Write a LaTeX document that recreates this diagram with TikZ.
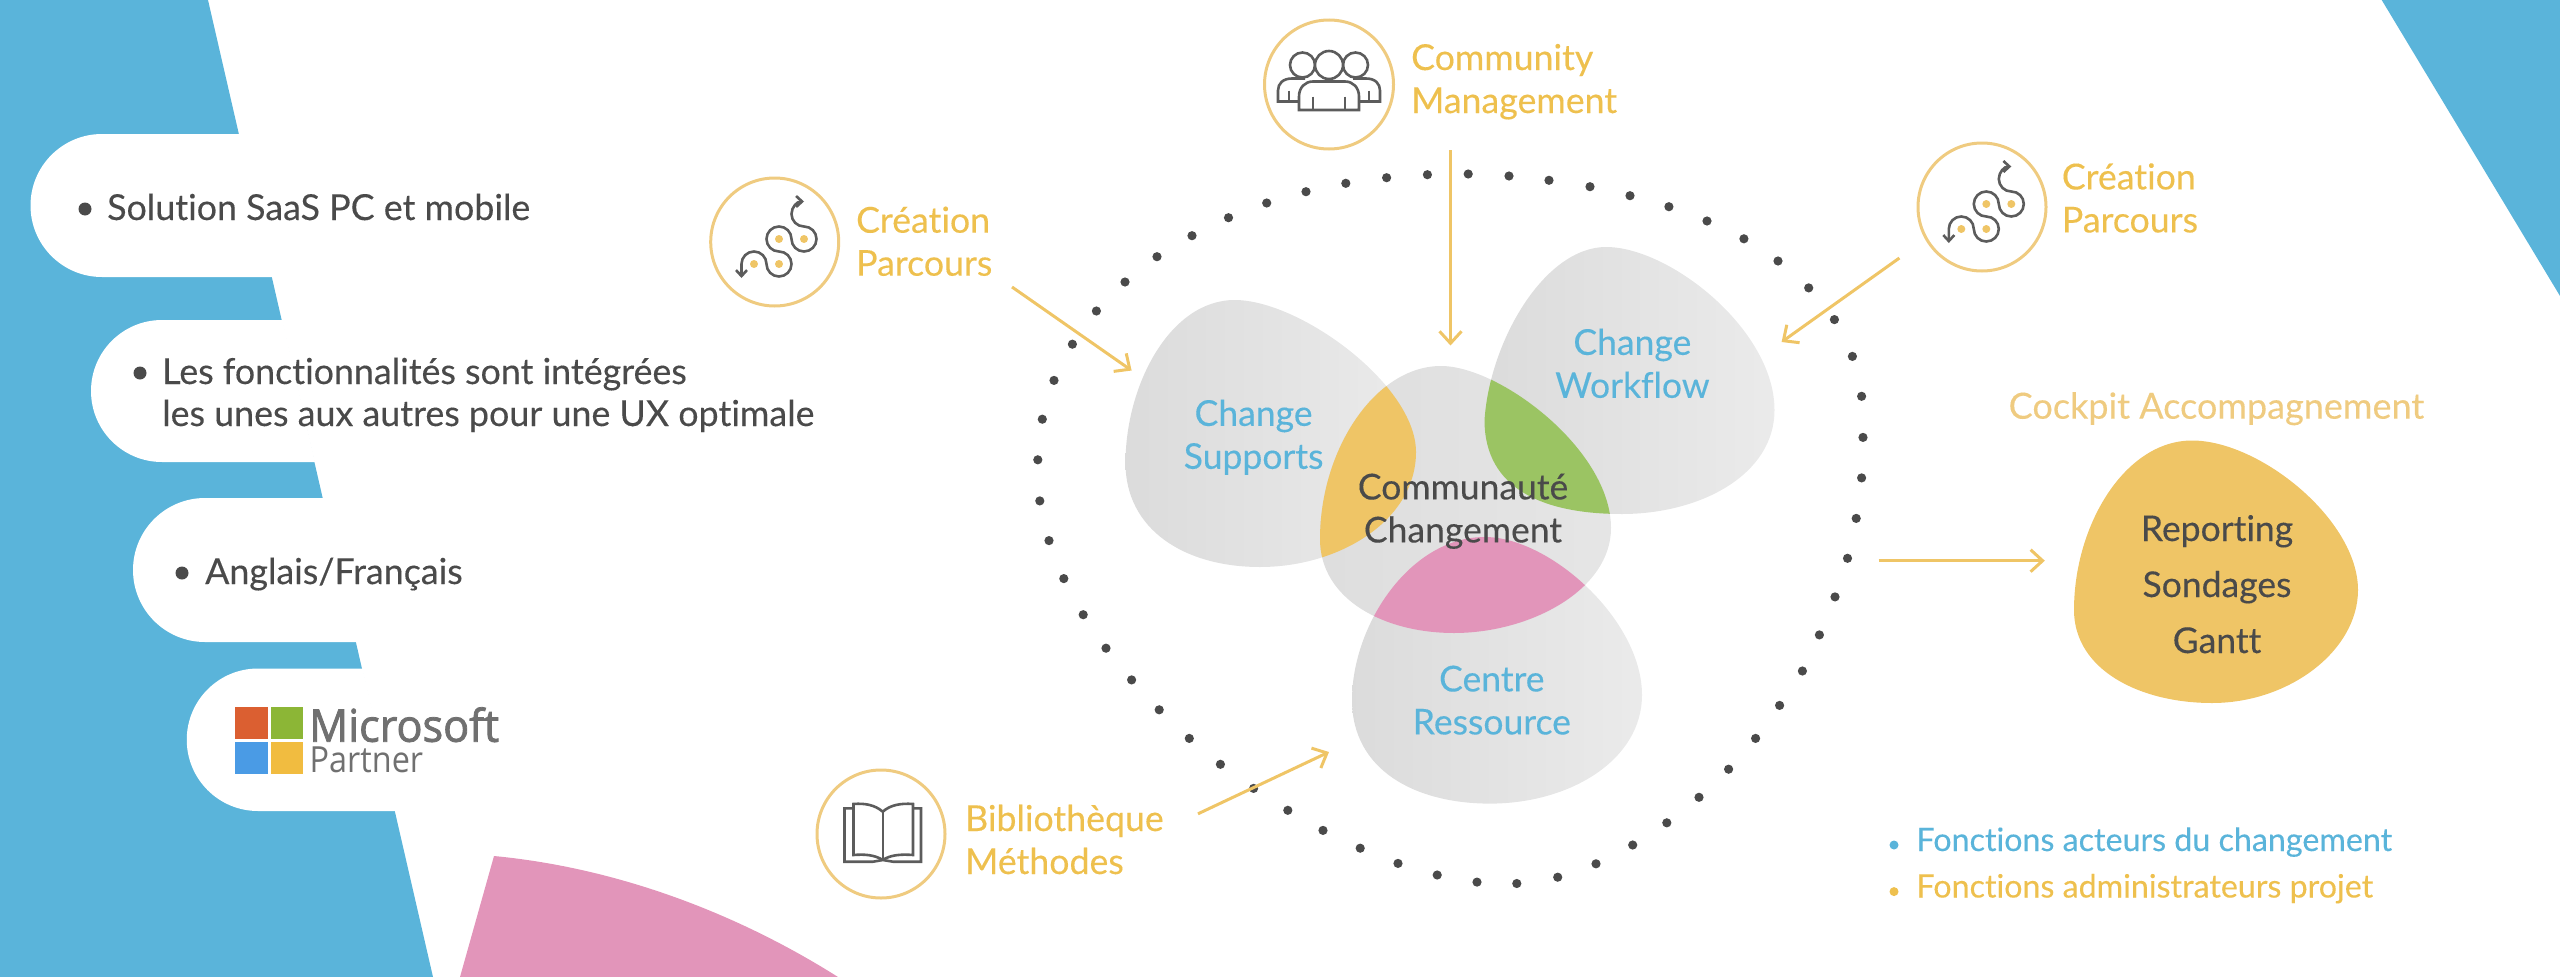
\documentclass[tikz,border=0pt]{standalone}
\usepackage{fontspec}
\setmainfont{Lato}[Ligatures=NoCommon,FakeBold=0.25]
\newfontfamily\msfont{Open Sans}[FakeStretch=0.96,FakeBold=1.8]
\newfontfamily\mslight{Open Sans}[FakeStretch=0.9]
\usetikzlibrary{arrows.meta}
\definecolor{skyblue}{HTML}{5AB4DA}
\definecolor{rosefill}{HTML}{E295BA}
\definecolor{goldfill}{HTML}{EFC566}
\definecolor{goldtext}{HTML}{EEC04E}
\definecolor{goldpale}{HTML}{EFCB80}
\definecolor{leaffill}{HTML}{9BC463}
\definecolor{inkgrey}{HTML}{4A4A4A}
\definecolor{icongrey}{HTML}{5C5C5C}
\definecolor{logogrey}{HTML}{707070}
\definecolor{logored}{HTML}{DB5F31}
\definecolor{logogreen}{HTML}{8CB636}
\definecolor{logoblue}{HTML}{4A9BE5}
\definecolor{logoyellow}{HTML}{F1BC40}
\tikzset{
    bodytext/.style={anchor=base west,inner sep=0pt,align=left,text=inkgrey,font=\fontsize{35.8}{42}\selectfont},
    goldlabel/.style={anchor=base west,inner sep=0pt,align=left,text=goldtext,font=\fontsize{35.7}{43}\selectfont},
    bluelabel/.style={anchor=base,inner sep=0pt,align=center,text=skyblue,font=\fontsize{35.5}{43}\selectfont},
    darklabel/.style={anchor=base,inner sep=0pt,align=center,text=inkgrey,font=\fontsize{35.5}{43}\selectfont},
    legendtext/.style={anchor=base west,inner sep=0pt,font=\fontsize{32.2}{36}\selectfont},
    blobshade/.style={left color=black!14,right color=black!8},
    arrowline/.style={draw=goldfill,line width=3pt,-{Straight Barb[length=12pt,width=22pt]}},
    iconring/.style={draw=goldpale,line width=3pt},
    iconline/.style={draw=icongrey,line width=2.6pt},
    parcoursicon/.pic={
        \draw[iconring] (0,0) circle[radius=64];
        \draw[iconline,{Straight Barb[length=6pt,width=11pt]}-{Straight Barb[length=6pt,width=11pt]}] (-33.2,36) -- (-33.2,22)
            arc[start angle=180,end angle=360,radius=12.5]
            arc[start angle=180,end angle=-90,radius=12.5]
            arc[start angle=90,end angle=360,radius=12.5]
            arc[start angle=180,end angle=-90,radius=12.5]
            arc[start angle=90,end angle=270,radius=12.5];
        \foreach \dx/\dy in {29.3/-3,4.3/-3,4.3/22,-20.7/22}
            \fill[goldfill] (\dx,\dy) circle[radius=4];
    },
    peopleicon/.pic={
        \draw[iconring] (0,0) circle[radius=64.5];
        \draw[iconline] (-24,-6) -- (-37,-6) .. controls (-46,-6) and (-51,-1) .. (-51,6) -- (-51,17) -- (-30,17);
        \draw[iconline] (24,-6) -- (37,-6) .. controls (46,-6) and (51,-1) .. (51,6) -- (51,17) -- (30,17);
        \draw[iconline] (-40,6) -- (-40,17) (40,6) -- (40,17);
        \draw[iconline] (-26.5,-19.5) circle[radius=12.5] (26.5,-19.5) circle[radius=12.5];
        \draw[iconline,fill=white] (-30,25.5) -- (-30,12) .. controls (-30,3) and (-24,-3) .. (-16,-3) -- (16,-3)
            .. controls (24,-3) and (30,3) .. (30,12) -- (30,25.5) -- cycle;
        \draw[iconline] (-16,12) -- (-16,25) (16,12) -- (16,25);
        \draw[iconline,fill=white] (0,-19.5) circle[radius=14];
    },
    bookicon/.pic={
        \draw[iconring] (0,0) circle[radius=64];
        \draw[iconline] (-27.5,-25.7) -- (-36.5,-25.7) -- (-36.5,27.7) -- (-8,27.7) -- (1.8,26) -- (12,27.7) -- (40,27.7) -- (40,-25.7) -- (32,-25.7);
        \draw[iconline] (1.8,-22.3) .. controls (-6,-29) and (-16,-31) .. (-27.5,-30) -- (-27.5,21) .. controls (-16,20) and (-6,21) .. (1.8,26);
        \draw[iconline] (1.8,-22.3) .. controls (9,-29) and (20,-31) .. (32,-30) -- (32,21) .. controls (20,20) and (9,21) .. (1.8,26);
        \draw[iconline] (1.8,-22.3) -- (1.8,26);
    }
}
% blob outlines
\newcommand{\blobsupports}{(1234.7,300) .. controls (1300,300) and (1416,385) .. (1416,452) .. controls (1416,520) and (1340,567) .. (1260,567) .. controls (1185,567) and (1125.5,530) .. (1125.5,463) .. controls (1125.5,385) and (1170,300) .. (1234.7,300) -- cycle}
\newcommand{\blobcentre}{(1441,366) .. controls (1500,366) and (1611,450) .. (1611,528) .. controls (1611,590) and (1530,633) .. (1454,633) .. controls (1385,633) and (1320,600) .. (1320,539) .. controls (1320,450) and (1375,366) .. (1441,366) -- cycle}
\newcommand{\blobworkflow}{(1606,247) .. controls (1670,247) and (1774.5,330) .. (1774.5,410) .. controls (1774.5,475) and (1700,514) .. (1622,514) .. controls (1545,514) and (1484.5,490) .. (1484.5,420) .. controls (1490,340) and (1545,247) .. (1606,247) -- cycle}
\newcommand{\blobressource}{(1484.7,537) .. controls (1550,537) and (1642,620) .. (1642,695) .. controls (1642,760) and (1570,803.6) .. (1490,803.6) .. controls (1415,803.6) and (1352,770) .. (1352,700) .. controls (1352,625) and (1410,537) .. (1484.7,537) -- cycle}
\begin{document}
\begin{tikzpicture}[x=1pt,y=-1pt]
    \useasboundingbox (0,0) rectangle (2560,977);
    % background shapes
    \fill[skyblue] (0,0) -- (208,0) -- (433,977) -- (0,977) -- cycle;
    \fill[skyblue] (2381.7,0) -- (2560,0) -- (2560,296) -- cycle;
    \fill[rosefill] (494,856) .. controls (620,868) and (740,915) .. (838,977) -- (460,977) -- cycle;
    % pills
    \fill[white] (240,134) -- (102,134) arc[start angle=270,end angle=90,radius=71.5] -- (273,277) -- cycle;
    \fill[white] (282.5,320) -- (162,320) arc[start angle=270,end angle=90,radius=71] -- (315,462) -- cycle;
    \fill[white] (323.6,498) -- (205,498) arc[start angle=270,end angle=90,radius=72] -- (357.6,642) -- cycle;
    \fill[white] (362.6,668.5) -- (258,668.5) arc[start angle=270,end angle=90,radius=71.25] -- (396,811) -- cycle;
    \foreach \bx/\by in {85/209,140/373,182/573}
        \fill[inkgrey] (\bx,\by) circle[radius=6.5];
    \node[bodytext] (saas) at (107,220) {Solution SaaS PC et mobile};
    \node[bodytext] (fonctions) at (162,426) {Les fonctionnalités sont intégrées\\les unes aux autres pour une UX optimale};
    \node[bodytext] (langues) at (205,584) {Anglais/Français};
    % partner logo
    \fill[logored] (235,706.7) rectangle (267.7,739);
    \fill[logogreen] (270.7,706.7) rectangle (302.7,739);
    \fill[logoblue] (235,741.7) rectangle (267.7,774);
    \fill[logoyellow] (270.7,741.7) rectangle (302.7,774);
    \node[anchor=base west,inner sep=0pt,text=logogrey,font=\msfont\fontsize{45}{45}\selectfont] (microsoft) at (309,741.7) {Microsoft};
    \node[anchor=base west,inner sep=0pt,text=logogrey,font=\mslight\fontsize{36}{36}\selectfont] (partner) at (309.5,772.7) {Partner};
    % dotted ring
    \foreach \px/\py in {1096.4/311,1125/282,1157/256.7,1192/235.7,1228.5/217.7,1266.7/203,1306/191.7,1345.8/183.3,1386.6/177.7,1427.4/174.7,1468.2/174,1509/176,1549/180.3,1590/186.7,1630/195.7,1668.9/206.7,1707/221,1743.9/238.8,1778/261,1808.7/287.9,1834.4/319.6,1852.4/356.4,1861.6/396.3,1863/437.4,1861.6/477.9,1856.2/518.4,1847.5/558.3,1835/596.9,1819.4/634.9,1802.4/671,1779.6/705.4,1755.6/738.4,1728.6/769.2,1699/797.3,1666.8/822.8,1632.7/845,1596/863.8,1557.7/877.2,1516.8/883.5,1477/882.1,1437.2/875,1398/863.4,1360.2/848.2,1323/830.4,1287.8/810.3,1253.6/788.4,1220.4/764.3,1189.3/738.4,1159.2/709.8,1131.6/679.9,1106/648.2,1083.2/614.7,1063.8/578.6,1049/540.6,1039.8/500.9,1037.8/459.8,1042.3/419.2,1054/380.4,1072.4/344.2}
        \fill[inkgrey] (\px,\py) circle[radius=4.6];
    % blobs
    \shade[blobshade] \blobsupports;
    \shade[blobshade] \blobworkflow;
    \shade[blobshade] \blobressource;
    \shade[left color=black!13,right color=black!10] \blobcentre;
    \begin{scope}
        \clip \blobcentre;
        \fill[goldfill] \blobsupports;
        \fill[leaffill] \blobworkflow;
        \fill[rosefill] \blobressource;
    \end{scope}
    \fill[goldfill] (2192,440.5) .. controls (2260,440.5) and (2358,520) .. (2358,590) .. controls (2358,650) and (2290,703) .. (2212,703) .. controls (2140,703) and (2074,670) .. (2074,610) .. controls (2074,525) and (2125,440.5) .. (2192,440.5) -- cycle;
    \node[bluelabel] (supports) at (1253.6,468.8) {Change\\Supports};
    \node[bluelabel] (workflow) at (1632.4,397.8) {Change\\Workflow};
    \node[bluelabel] (ressource) at (1491.8,734.4) {Centre\\Ressource};
    \node[darklabel] (communaute) at (1463,542.4) {Communauté\\Changement};
    % icons with their labels
    \pic at (774.7,242) {parcoursicon};
    \pic at (1982,207) {parcoursicon};
    \pic at (1329,84.5) {peopleicon};
    \pic at (881,834) {bookicon};
    \node[goldlabel] (parcoursA) at (856,275.7) {Création\\Parcours};
    \node[goldlabel] (parcoursB) at (2061.7,232.4) {Création\\Parcours};
    \node[goldlabel] (community) at (1411,113) {Community\\Management};
    \node[goldlabel] (methodes) at (965,874) {Bibliothèque\\Méthodes};
    % cockpit
    \node[anchor=base,inner sep=0pt,text=goldpale,font=\fontsize{36}{40}\selectfont] (cockpit) at (2216.4,418.7) {Cockpit Accompagnement};
    \node[darklabel,font=\fontsize{35.5}{56}\selectfont] (reporting) at (2217,653) {Reporting\\Sondages\\Gantt};
    % legend
    \fill[skyblue] (1894,845) circle[radius=4.5];
    \fill[goldtext] (1894,891.6) circle[radius=4.5];
    \node[legendtext,text=skyblue] (acteurs) at (1916.3,851) {Fonctions acteurs du changement};
    \node[legendtext,text=goldtext] (admins) at (1916.3,897.5) {Fonctions administrateurs projet};
    % arrows
    \coordinate (a1) at (1012,287);
    \coordinate (b1) at (1131.6,370.5);
    \coordinate (a2) at (1450.5,150);
    \coordinate (b2) at (1450.5,345.5);
    \coordinate (a3) at (1899.4,258);
    \coordinate (b3) at (1781.6,342);
    \coordinate (a4) at (1198,813.8);
    \coordinate (b4) at (1329,752);
    \coordinate (a5) at (1878.5,560.7);
    \coordinate (b5) at (2044.8,560.7);
    \foreach \from/\to in {a1/b1,a2/b2,a3/b3,a4/b4,a5/b5}
        \draw[arrowline] (\from) -- (\to);
\end{tikzpicture}
\end{document}
